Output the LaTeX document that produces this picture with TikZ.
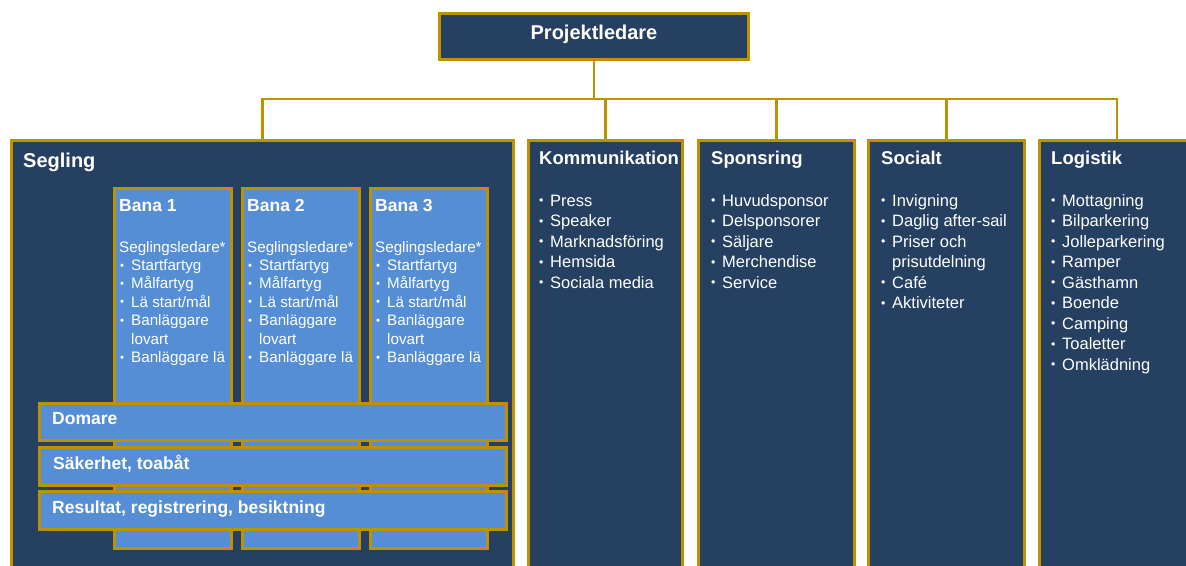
\documentclass[tikz,border=0pt]{standalone}
\usepackage{fontspec}
\setmainfont{Liberation Sans}
\usetikzlibrary{shadows}
\definecolor{navy}{HTML}{254061}
\definecolor{gold}{HTML}{BF9000}
\definecolor{lblue}{HTML}{558ED5}
\newcommand{\bl}{\makebox[11pt][l]{\raisebox{0.15ex}{\scalebox{0.75}{\textbullet}}}}
\newcommand{\blb}{\makebox[12pt][l]{\hspace{0.8pt}\raisebox{0.15ex}{\scalebox{0.75}{\textbullet}}}}
\begin{document}
\begin{tikzpicture}[x=1pt,y=-1pt,
  box/.style={draw=gold, line width=3pt, fill=navy, inner sep=0pt, outer sep=0pt,
    drop shadow={opacity=0.25, shadow xshift=1.5pt, shadow yshift=-1.5pt}},
  lbox/.style={box, fill=lblue},
  conn/.style={draw=gold, line width=2.2pt},
  txt/.style={text=white, inner sep=0pt, anchor=base west},
  ttl/.style={txt, font=\fontsize{18.5}{22}\selectfont\bfseries},
  btl/.style={txt, font=\fontsize{17.5}{21}\selectfont\bfseries},
  lst/.style={txt, font=\fontsize{16.5}{20.5}\selectfont},
  blst/.style={txt, font=\fontsize{15.2}{18.4}\selectfont}]
\fill[white] (0,0) rectangle (1186,565);
\useasboundingbox (0,0) rectangle (1186,565);

% boxes
\node[box, minimum width=309pt, minimum height=46pt] (pl) at (594,36.5) {};
\node[box, minimum width=502pt, minimum height=458pt] (seg) at (262.5,369.5) {};
\node[box, minimum width=154pt, minimum height=458pt] (kom) at (605.5,369.5) {};
\node[box, minimum width=156pt, minimum height=458pt] (spo) at (776.5,369.5) {};
\node[box, minimum width=156pt, minimum height=458pt] (soc) at (946.5,369.5) {};
\node[box, minimum width=155pt, minimum height=458pt] (log) at (1117,369.5) {};

% connectors
\coordinate (bus) at (594,99);
\draw[conn] (pl.south) -- (pl.south |- bus);
\draw[conn] (seg.north) -- (seg.north |- bus) -- (log.north |- bus) -- (log.north);
\draw[conn] (kom.north) -- (kom.north |- bus);
\draw[conn] (spo.north) -- (spo.north |- bus);
\draw[conn] (soc.north) -- (soc.north |- bus);

% banor
\node[lbox, minimum width=117pt, minimum height=360pt] (b1) at (173,368.5) {};
\node[lbox, minimum width=117pt, minimum height=360pt] (b2) at (301,368.5) {};
\node[lbox, minimum width=117pt, minimum height=360pt] (b3) at (429,368.5) {};

% strips
\node[lbox, minimum width=467pt, minimum height=37pt] (dom) at (273,422) {};
\node[lbox, minimum width=467pt, minimum height=38pt] (sak) at (273,466.5) {};
\node[lbox, minimum width=467pt, minimum height=38pt] (res) at (273,510.5) {};

% texts
\node[txt, anchor=base, font=\fontsize{20}{24}\selectfont\bfseries] (plT) at (594,39) {Projektledare};
\node[txt, font=\fontsize{20}{24}\selectfont\bfseries] (segT) at (23,167) {Segling};
\node[ttl] (komT) at (539,164) {Kommunikation};
\node[ttl] (spoT) at (711,164) {Sponsring};
\node[ttl] (socT) at (881,164) {Socialt};
\node[ttl] (logT) at (1051,164) {Logistik};

\node[lst] (komL) at (539,206) {\begin{tabular}[t]{@{}l@{}l@{}}\bl&Press\\\bl&Speaker\\\bl&Marknadsföring\\\bl&Hemsida\\\bl&Sociala media\end{tabular}};
\node[lst] (spoL) at (711,206) {\begin{tabular}[t]{@{}l@{}l@{}}\bl&Huvudsponsor\\\bl&Delsponsorer\\\bl&Säljare\\\bl&Merchendise\\\bl&Service\end{tabular}};
\node[lst] (socL) at (881,206) {\begin{tabular}[t]{@{}l@{}l@{}}\bl&Invigning\\\bl&Daglig after-sail\\\bl&Priser och\\&prisutdelning\\\bl&Café\\\bl&Aktiviteter\end{tabular}};
\node[lst] (logL) at (1051,206) {\begin{tabular}[t]{@{}l@{}l@{}}\bl&Mottagning\\\bl&Bilparkering\\\bl&Jolleparkering\\\bl&Ramper\\\bl&Gästhamn\\\bl&Boende\\\bl&Camping\\\bl&Toaletter\\\bl&Omklädning\end{tabular}};

\node[btl] (b1T) at (119,211) {Bana 1};
\node[btl] (b2T) at (247,211) {Bana 2};
\node[btl] (b3T) at (375,211) {Bana 3};
\node[blst] (b1L) at (119,252) {\begin{tabular}[t]{@{}l@{}l@{}}\multicolumn{2}{@{}l@{}}{Seglingsledare*}\\\blb&Startfartyg\\\blb&Målfartyg\\\blb&Lä start/mål\\\blb&Banläggare\\&lovart\\\blb&Banläggare lä\end{tabular}};
\node[blst] (b2L) at (247,252) {\begin{tabular}[t]{@{}l@{}l@{}}\multicolumn{2}{@{}l@{}}{Seglingsledare*}\\\blb&Startfartyg\\\blb&Målfartyg\\\blb&Lä start/mål\\\blb&Banläggare\\&lovart\\\blb&Banläggare lä\end{tabular}};
\node[blst] (b3L) at (375,252) {\begin{tabular}[t]{@{}l@{}l@{}}\multicolumn{2}{@{}l@{}}{Seglingsledare*}\\\blb&Startfartyg\\\blb&Målfartyg\\\blb&Lä start/mål\\\blb&Banläggare\\&lovart\\\blb&Banläggare lä\end{tabular}};

\node[btl] (domT) at (52,424) {Domare};
\node[btl] (sakT) at (53,469) {Säkerhet, toabåt};
\node[btl] (resT) at (52,513) {Resultat, registrering, besiktning};
\end{tikzpicture}
\end{document}
